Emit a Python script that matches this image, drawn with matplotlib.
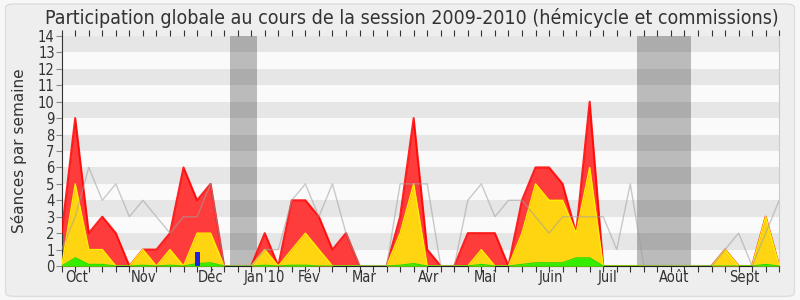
import matplotlib
matplotlib.use("Agg")
import matplotlib.pyplot as plt
from matplotlib.patches import FancyBboxPatch
import numpy as np

plt.rcParams['font.family'] = ['DejaVu Sans']

weeks = list(range(54))
total = [2, 9, 2, 3, 2, 0, 1, 1, 2, 6, 4, 5, 0, 0, 0, 2, 0, 4, 4, 3,
         1, 2, 0, 0, 0, 3, 9, 1, 0, 0, 2, 2, 2, 0, 4, 6, 6, 5, 2, 10,
         0, 0, 0, 0, 0, 0, 0, 0, 0, 1, 0, 0, 3, 0]
hemicycle = [0, 5, 1, 1, 0, 0, 1, 0, 1, 0, 2, 2, 0, 0, 0, 1, 0, 1, 2, 1,
             0, 0, 0, 0, 0, 2, 5, 0, 0, 0, 0, 1, 0, 0, 2, 5, 4, 4, 2, 6,
             0, 0, 0, 0, 0, 0, 0, 0, 0, 1, 0, 0, 3, 0]
interventions = [0, 0.5, 0.1, 0.1, 0, 0, 0.05, 0, 0.05, 0, 0.15, 0.2, 0, 0, 0, 0.05, 0, 0.05, 0.05, 0,
                 0, 0, 0, 0, 0, 0.05, 0.15, 0, 0, 0, 0, 0.1, 0, 0, 0.1, 0.2, 0.2, 0.2, 0.5, 0.5,
                 0, 0, 0, 0, 0, 0, 0, 0, 0, 0, 0, 0, 0.1, 0]
median = [1, 3, 6, 4, 5, 3, 4, 3, 2, 3, 3, 5, 0, 0, 0, 1, 1, 4, 5, 3,
          5, 2, 0, 0, 0, 5, 5, 5, 0, 0, 4, 5, 3, 4, 4, 3, 2, 3, 3, 3,
          3, 1, 5, 0, 0, 0, 0, 0, 0, 1, 2, 0, 2, 4]
questions_week = [10]
questions_val = [0.85]
vacations = [(12.45, 14.45), (42.5, 46.5)]
month_labels = ['Oct', 'Nov', 'Déc', 'Jan 10', 'Fév', 'Mar', 'Avr', 'Mai', 'Juin', 'Juil', 'Août', 'Sept']
month_pos = [1.13, 6.05, 11.03, 14.98, 18.26, 22.33, 27.1, 31.3, 36.1, 40.3, 45.2, 50.4]

fig = plt.figure(figsize=(8, 3), dpi=100)
fig.patch.set_facecolor('#f7f7f7')
bg = FancyBboxPatch((0.007, 0.012), 0.986, 0.975, boxstyle="round,pad=0,rounding_size=0.012",
                    transform=fig.transFigure, facecolor='#eeeeee', edgecolor='#dddddd',
                    linewidth=1, zorder=-10)
fig.patches.append(bg)

ax = fig.add_axes([0.0771, 0.1133, 0.974 - 0.0771, 0.88 - 0.1133])
ax.set_zorder(5)
ax.set_facecolor('#fafafa')
ax.set_xlim(0, 53)
ax.set_ylim(0, 14)

for k in range(1, 14, 2):
    ax.axhspan(k, k + 1, color='#e6e6e6', zorder=0, linewidth=0)
for a, b in vacations:
    ax.axvspan(a, b, color='black', alpha=0.25, zorder=1, linewidth=0)

x = np.array(weeks)
ax.fill_between(x, total, color='#ff3c3c', zorder=2, linewidth=0)
ax.plot(x, total, color='#ff0000', linewidth=1.5, zorder=3, alpha=0.85)
ax.fill_between(x, hemicycle, color='#ffd512', zorder=4, linewidth=0)
ax.plot(x, hemicycle, color='#ffee00', linewidth=1.0, zorder=5)
ax.fill_between(x, interventions, color='#33ee00', zorder=6, linewidth=0)
ax.plot(x, interventions, color='#22dd00', linewidth=0.8, zorder=6)
ax.bar(questions_week, questions_val, width=0.37, color='#2222dd', zorder=7)
ax.plot(x, median, color='#a0a0a0', linewidth=1.0, zorder=8, alpha=0.55)

ax.set_yticks(range(15))
ax.set_yticklabels([str(v) for v in range(15)], fontsize=10.5, color='#333333',
                   fontstretch='condensed')
ax.set_xticks(weeks)
ax.set_xticklabels([])
ax.set_xticks(month_pos, minor=True)
ax.set_xticklabels(month_labels, minor=True, fontsize=10.5, color='#333333',
                   fontstretch='condensed')
ax.tick_params(axis='x', which='major', direction='out', length=4, width=0.8,
               color='#333333', top=True)
ax.tick_params(axis='x', which='minor', length=0, pad=3)
ax.tick_params(axis='y', direction='out', length=4, width=0.8, color='#888888', pad=1)

ax.spines['top'].set_visible(False)
ax.spines['right'].set_color('#cccccc')
ax.spines['left'].set_color('#333333')
ax.spines['bottom'].set_color('#222222')

ax.set_ylabel('Séances par semaine', fontsize=11, color='#333333', labelpad=8)
fig.text(0.515, 0.94, 'Participation globale au cours de la session 2009-2010 (hémicycle et commissions)',
         ha='center', va='center', fontsize=14, color='#333333', fontstretch='condensed')

fig.savefig('out.png', dpi=100, facecolor=fig.get_facecolor())
